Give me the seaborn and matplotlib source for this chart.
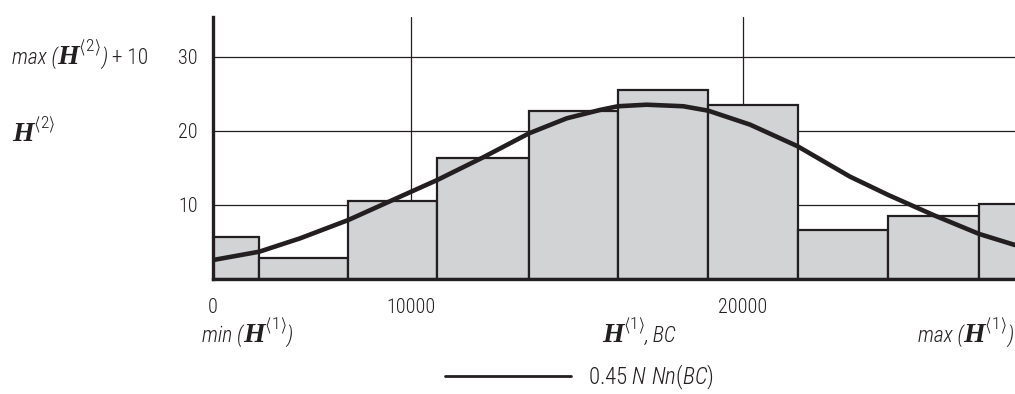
import matplotlib
matplotlib.use("Agg")
import matplotlib.pyplot as plt
import seaborn as sns
from matplotlib.lines import Line2D

# histogram: bin edges (BC) and bar heights
bin_edges = [2711, 5422, 8102, 10783, 13554, 16235, 18946, 21657, 24367, 27108, 29819]
bar_heights = [5.7, 2.9, 10.6, 16.4, 22.7, 25.5, 23.5, 6.6, 8.5, 10.2]

# curve 0.45 N Nn(BC)
curve_x = [4045, 5431, 6657, 8111, 9669, 10792, 12178, 13554, 14690, 15693, 16235,
           17099, 18202, 18955, 20211, 21647, 23223, 24377, 25732, 27117, 28193]
curve_y = [2.57, 3.69, 5.49, 7.97, 11.12, 13.38, 16.45, 19.68, 21.71, 22.84, 23.34,
           23.55, 23.34, 22.74, 20.86, 17.93, 13.83, 11.35, 8.65, 6.08, 4.59]

x_ticks = [4036, 10000, 20000]
x_ticklabels = ["0", "10000", "20000"]
y_ticks = [10, 20, 30]

W, H = 1015, 394
dark = "#231f20"
sans = "Roboto Condensed"
serif = "Liberation Serif"

sns.set_style("white")
plt.rcParams["font.family"] = [sans, "DejaVu Sans"]
plt.rcParams["font.weight"] = "light"
plt.rcParams["mathtext.fontset"] = "custom"
plt.rcParams["mathtext.rm"] = sans + ":light"
plt.rcParams["mathtext.it"] = sans + ":italic:light"
plt.rcParams["mathtext.fallback"] = "stixsans"

fig = plt.figure(figsize=(W / 100, H / 100), dpi=100)
ax = fig.add_axes([213 / W, 1 - 279 / H, 1 - 213 / W, (279 - 17) / H])

centers = [(a + b) / 2 for a, b in zip(bin_edges[:-1], bin_edges[1:])]
sns.histplot(x=centers, weights=bar_heights, bins=bin_edges, ax=ax,
             color="#d1d3d4", edgecolor=dark, linewidth=1.6, alpha=1, zorder=2)
sns.lineplot(x=curve_x, y=curve_y, ax=ax, color=dark, linewidth=3.3, zorder=3)

ax.set_xlim(4036, 28193)
ax.set_ylim(0, 35.4)
ax.set_xticks(x_ticks)
ax.set_xticklabels(x_ticklabels)
ax.set_yticks(y_ticks)
ax.grid(True, color=dark, linewidth=0.9, zorder=0)
ax.set_axisbelow(True)
ax.tick_params(length=0, labelsize=14.5, colors=dark)
ax.tick_params(axis="y", pad=11)
ax.tick_params(axis="x", pad=14)
ax.set_xlabel("")
ax.set_ylabel("")
for s in ["top", "right"]:
    ax.spines[s].set_visible(False)
for s in ["left", "bottom"]:
    ax.spines[s].set_linewidth(2.4)
    ax.spines[s].set_color(dark)
    ax.spines[s].set_zorder(4)

renderer = fig.canvas.get_renderer()


def rich_text(x_px, y_px, pieces, ha="left"):
    # pieces: (text, size, family, style, weight, rise in px), set along one baseline
    items = []
    x = x_px
    for s, size, fam, style, weight, rise in pieces:
        t = fig.text(x / W, 1 - (y_px - rise) / H, s, fontsize=size, family=fam,
                     style=style, weight=weight, color=dark, va="baseline", ha="left")
        x += t.get_window_extent(renderer).width
        items.append(t)
    if ha == "right":
        shift = (x - x_px) / W
        for t in items:
            px, py = t.get_position()
            t.set_position((px - shift, py))


def h_sup(n):
    return [("H", 20, serif, "italic", "bold", 0),
            (r"$\langle$", 12.5, sans, "normal", "light", 11),
            (n, 12.5, sans, "normal", "light", 13),
            (r"$\rangle$", 12.5, sans, "normal", "light", 11)]


cap = 15.5
rich_text(12, 64, [("max (", cap, sans, "italic", "light", 0)] + h_sup("2")
          + [(")", cap, sans, "italic", "light", 0), (" + 10", cap, sans, "normal", "light", 0)])
rich_text(12, 141, h_sup("2"))
rich_text(202, 342, [("min (", cap, sans, "italic", "light", 0)] + h_sup("1")
          + [(")", cap, sans, "italic", "light", 0)])
rich_text(602, 342, h_sup("1") + [(", BC", cap, sans, "italic", "light", 0)])
rich_text(1013, 342, [("max (", cap, sans, "italic", "light", 0)] + h_sup("1")
          + [(")", cap, sans, "italic", "light", 0)], ha="right")

handle = Line2D([], [], color=dark, linewidth=2.0)
fig.legend([handle], [r"0.45 $\mathit{N\ Nn(BC)}$"], loc="center left",
           bbox_to_anchor=(445 / W, 1 - 377 / H), frameon=False,
           fontsize=16.5, handlelength=5.5, handletextpad=0.75,
           borderpad=0, borderaxespad=0, labelcolor=dark)

fig.savefig("out.png", dpi=100)
